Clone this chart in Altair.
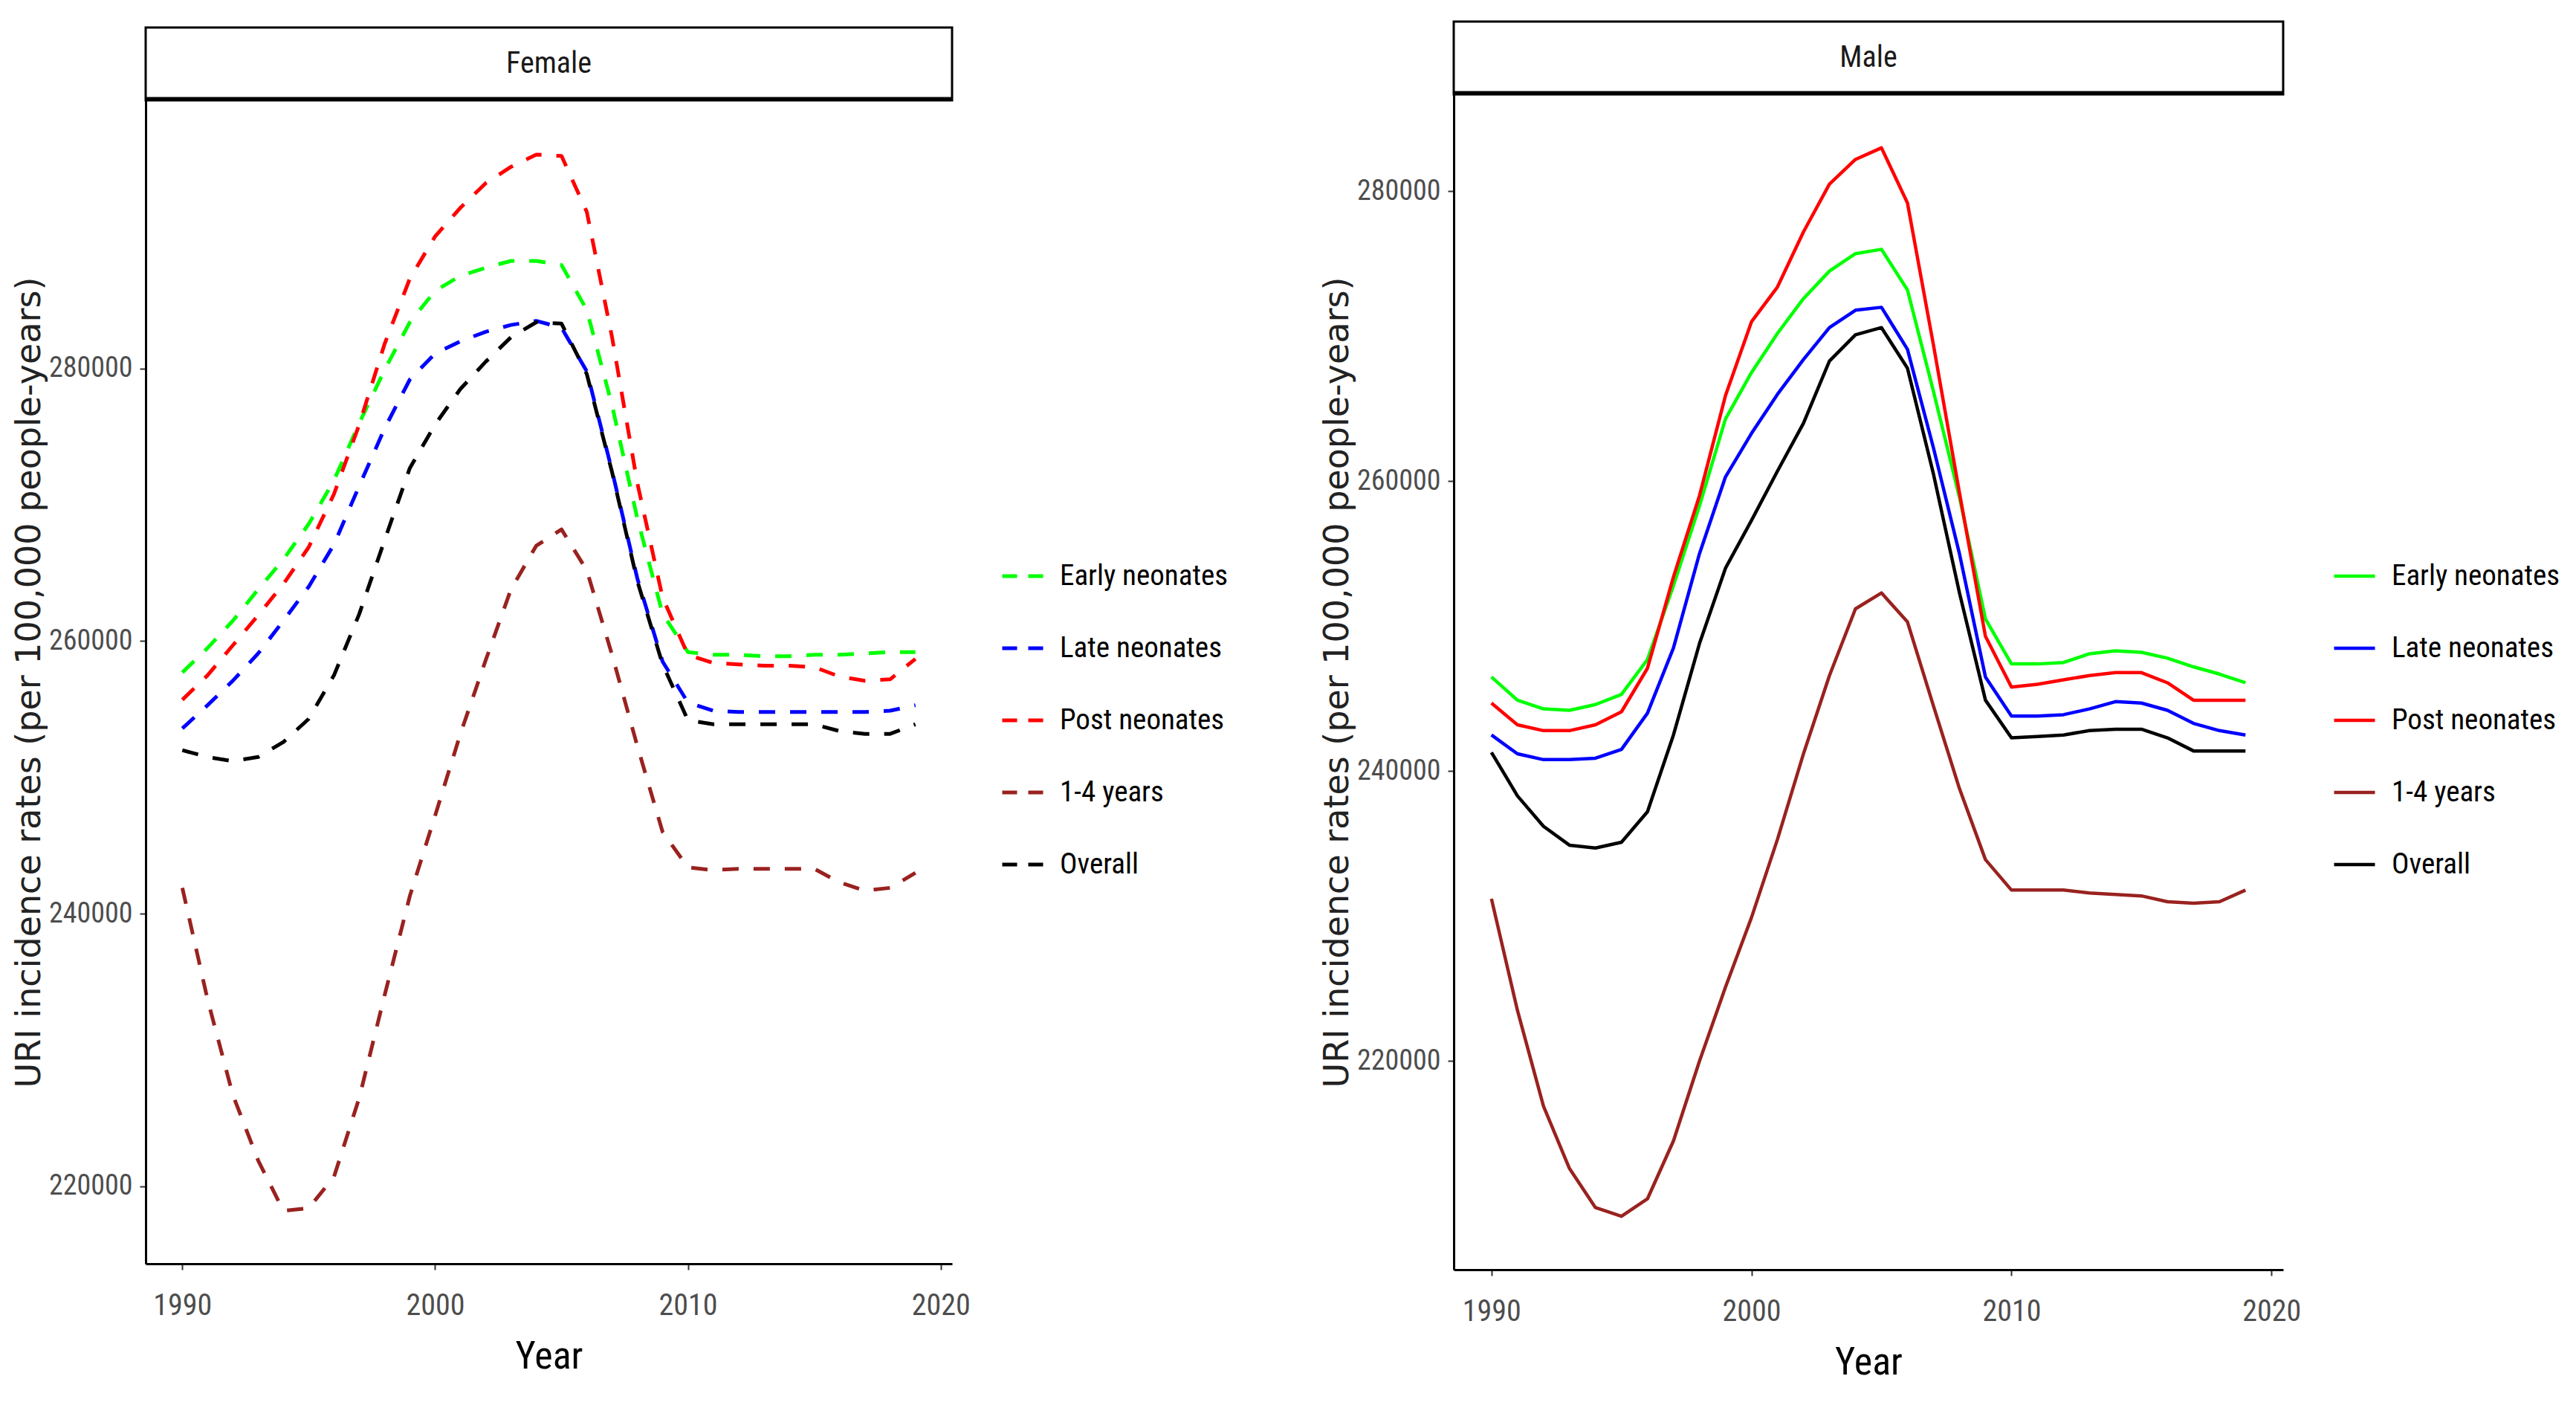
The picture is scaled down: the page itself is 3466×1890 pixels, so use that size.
import altair as alt
import pandas as pd

years = [1990, 1991, 1992, 1993, 1994, 1995, 1996, 1997, 1998, 1999,
         2000, 2001, 2002, 2003, 2004, 2005, 2006, 2007, 2008, 2009,
         2010, 2011, 2012, 2013, 2014, 2015, 2016, 2017, 2018, 2019]

groups = ["Early neonates", "Late neonates", "Post neonates", "1-4 years", "Overall"]
colors = ["#00FF00", "#0000FF", "#FF0000", "#99221F", "#000000"]
female_widths = [5, 5, 5, 2.6, 5]
male_widths = [4.5, 4.5, 4.5, 2.5, 4.5]

# Female
f_early = [257700, 259500, 261500, 263800, 266000, 268600, 271800, 276000, 279900, 283400,
           285700, 286800, 287400, 287900, 287900, 287600, 284300, 277300, 269000, 262000,
           259200, 259000, 259000, 258900, 258900, 259000, 259000, 259100, 259200, 259200]
f_late = [253600, 255300, 257100, 259100, 261500, 264000, 267100, 271400, 275600, 279200,
          281100, 282000, 282700, 283200, 283500, 283000, 279800, 272500, 264600, 258500,
          255500, 254900, 254800, 254800, 254800, 254800, 254800, 254800, 254900, 255300]
f_post = [255700, 257500, 259700, 261900, 264200, 266900, 270800, 275900, 281800, 286600,
          289700, 291800, 293600, 294800, 295700, 295600, 291500, 282300, 271600, 263200,
          259000, 258400, 258300, 258200, 258200, 258100, 257400, 257100, 257200, 258700]
f_1to4 = [241900, 233700, 226700, 221900, 218200, 218400, 220700, 226500, 234000, 241300,
          247200, 253200, 258600, 263800, 267000, 268200, 265200, 259000, 252300, 246000,
          243400, 243200, 243300, 243300, 243300, 243300, 242300, 241700, 241900, 243000]
f_overall = [252000, 251500, 251200, 251500, 252600, 254300, 257500, 262000, 267400, 272700,
             275900, 278500, 280500, 282300, 283400, 283300, 279600, 272400, 264400, 258300,
             254200, 253900, 253900, 253900, 253900, 253900, 253400, 253200, 253200, 253900]

# Male
m_early = [246500, 244900, 244300, 244200, 244600, 245300, 247700, 252800, 258300, 264300,
           267500, 270200, 272600, 274500, 275700, 276000, 273200, 266200, 258900, 250500,
           247400, 247400, 247500, 248100, 248300, 248200, 247800, 247200, 246700, 246100]
m_late = [242500, 241200, 240800, 240800, 240900, 241500, 244000, 248500, 255000, 260300,
          263300, 266000, 268400, 270600, 271800, 272000, 269100, 262300, 255000, 246500,
          243800, 243800, 243900, 244300, 244800, 244700, 244200, 243300, 242800, 242500]
m_post = [244700, 243200, 242800, 242800, 243200, 244100, 247100, 253400, 259000, 265900,
          271000, 273400, 277200, 280500, 282200, 283000, 279200, 269400, 259200, 249300,
          245800, 246000, 246300, 246600, 246800, 246800, 246100, 244900, 244900, 244900]
m_1to4 = [231200, 223500, 216900, 212600, 209900, 209300, 210500, 214500, 220000, 225100,
          229900, 235300, 241200, 246600, 251200, 252300, 250300, 244500, 238800, 233900,
          231800, 231800, 231800, 231600, 231500, 231400, 231000, 230900, 231000, 231800]
m_overall = [241300, 238300, 236200, 234900, 234700, 235100, 237200, 242500, 248800, 254000,
             257300, 260700, 264000, 268300, 270100, 270600, 267800, 260500, 252300, 244900,
             242300, 242400, 242500, 242800, 242900, 242900, 242300, 241400, 241400, 241400]

x_ticks = [1990, 2000, 2010, 2020]
y_ticks = [220000, 240000, 260000, 280000]
y_title = "URI incidence rates (per 100,000 people-years)"

FONT_N = "Liberation Sans Narrow, Arial Narrow, Roboto Condensed, DejaVu Sans Condensed, sans-serif"
FONT_T = "DejaVu Sans, Verdana, sans-serif"


def tidy(series_list):
    rows = []
    for g, vals in zip(groups, series_list):
        for yr, v in zip(years, vals):
            rows.append({"Year": yr, "Rate": v, "Group": g})
    return pd.DataFrame(rows)


def panel(df, name, w, h, ydom, dashed, widths, legx, legy):
    legend_kw = dict(
        title=None, orient="none", legendX=legx, legendY=legy,
        symbolType="stroke", symbolSize=3025, symbolStrokeWidth=6,
        labelFont=FONT_N, labelFontSize=39, labelColor="#000000",
        rowPadding=47, labelOffset=20, labelLimit=600,
    )
    if dashed:
        legend_kw["symbolDash"] = [20, 15]
    mark_kw = dict(strokeJoin="round")
    if dashed:
        mark_kw["strokeDash"] = [22, 20]
    lines = alt.Chart(df).mark_line(**mark_kw).encode(
        x=alt.X("Year:Q",
                scale=alt.Scale(domain=[1988.55, 2020.45], nice=False, zero=False),
                axis=alt.Axis(values=x_ticks, format="d", title="Year",
                              labelFontSize=40, labelPadding=28,
                              titleFont=FONT_N, titleFontSize=52, titleFontWeight="normal",
                              titleColor="#000000", titlePadding=23)),
        y=alt.Y("Rate:Q",
                scale=alt.Scale(domain=ydom, nice=False, zero=False),
                axis=alt.Axis(values=y_ticks, format="d", title=y_title,
                              labelFontSize=38, labelPadding=10,
                              titleFont=FONT_T, titleFontSize=46, titleFontWeight="normal",
                              titleColor="#222222", titlePadding=2)),
        color=alt.Color("Group:N", scale=alt.Scale(domain=groups, range=colors),
                        sort=groups, legend=alt.Legend(**legend_kw)),
        strokeWidth=alt.StrokeWidth("Group:N", scale=alt.Scale(domain=groups, range=widths),
                                    legend=None),
    )
    strip_df = pd.DataFrame({"panel": [name]})
    strip_rect = alt.Chart(strip_df).mark_rect(fill="white", stroke="black", strokeWidth=3).encode(
        x=alt.value(0), x2=alt.value(w), y=alt.value(-98), y2=alt.value(0))
    strip_rule = alt.Chart(strip_df).mark_rule(color="black", strokeWidth=5).encode(
        x=alt.value(0), x2=alt.value(w), y=alt.value(-2))
    strip_text = alt.Chart(strip_df).mark_text(font=FONT_N, fontSize=40, color="#1a1a1a",
                                               baseline="middle").encode(
        text="panel:N", x=alt.value(w / 2), y=alt.value(-49))
    return alt.layer(lines, strip_rect, strip_rule, strip_text).properties(width=w, height=h)


female = panel(tidy([f_early, f_late, f_post, f_1to4, f_overall]), "Female",
               1085, 1565, [214320, 299680], True, female_widths, 1150, 610)
male = panel(tidy([m_early, m_late, m_post, m_1to4, m_overall]), "Male",
             1116, 1581, [205615, 286685], False, male_widths, 1182, 618)

chart = alt.hconcat(female, male, spacing=675, bounds="flush", center=True).resolve_scale(
    color="independent", strokeWidth="independent", x="independent", y="independent"
).resolve_legend(color="independent").configure_view(stroke=None).configure_axis(
    grid=False, domainColor="#000000", domainWidth=3, tickColor="#333333", tickWidth=2,
    tickSize=8, labelFont=FONT_N, labelColor="#4D4D4D"
).properties(padding={"left": 8, "top": 19, "right": 0, "bottom": 10}, background="white")

chart.save("out.html", embed_options={"renderer": "svg", "actions": False})
